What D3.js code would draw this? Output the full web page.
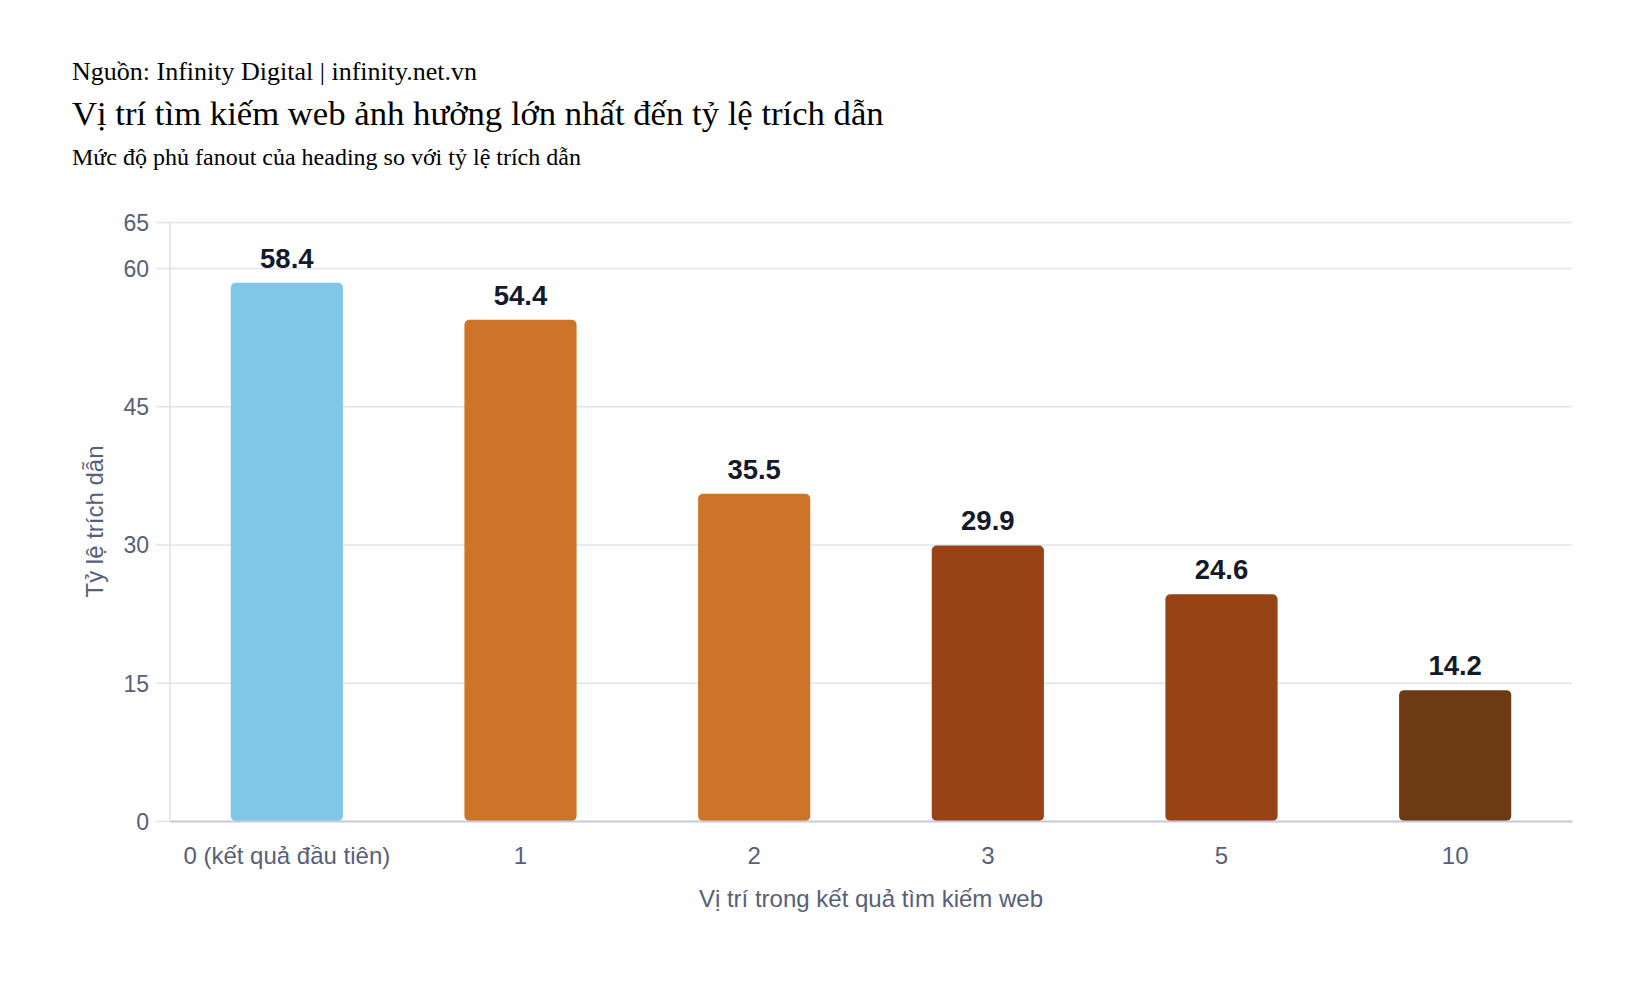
<!DOCTYPE html>
<html>
<head>
<meta charset="utf-8">
<script src="https://cdn.jsdelivr.net/npm/d3@7"></script>
<style>
  body { margin: 0; background: #fff; }
  svg text { font-family: "Liberation Sans", Arial, sans-serif; }
  .head text { font-family: "Liberation Serif", "Times New Roman", serif; fill: #000; }
</style>
</head>
<body>
<div id="chart"></div>
<script>
// data
const positions = ['0 (kết quả đầu tiên)', '1', '2', '3', '5', '10'];
const citationRates = [58.4, 54.4, 35.5, 29.9, 24.6, 14.2];
const barColors = ['#80C6E7', '#CE7428', '#CE7428', '#974315', '#974315', '#6D3B13'];
const yTicks = [0, 15, 30, 45, 60, 65];

const width = 1630, height = 992;
const margin = { top: 222, right: 58, bottom: 171, left: 170 };
const innerW = width - margin.left - margin.right;
const innerH = height - margin.top - margin.bottom;

const svg = d3.select('#chart').append('svg')
  .attr('width', width)
  .attr('height', height);

// header texts
const head = svg.append('g').attr('class', 'head');
head.append('text').attr('x', 72).attr('y', 80).style('font-size', '26px')
  .text('Nguồn: Infinity Digital | infinity.net.vn');
head.append('text').attr('x', 72).attr('y', 125).style('font-size', '34.7px')
  .text('Vị trí tìm kiếm web ảnh hưởng lớn nhất đến tỷ lệ trích dẫn');
head.append('text').attr('x', 72).attr('y', 165).style('font-size', '24px')
  .text('Mức độ phủ fanout của heading so với tỷ lệ trích dẫn');

const g = svg.append('g')
  .attr('transform', `translate(${margin.left}, ${margin.top})`);

const xScale = d3.scaleBand()
  .domain(positions)
  .range([0, innerW])
  .paddingInner(0.52)
  .paddingOuter(0.26);

const yScale = d3.scaleLinear()
  .domain([0, 65])
  .range([innerH, 0]);

// gridlines + y labels
const yAxis = d3.axisLeft(yScale)
  .tickValues(yTicks)
  .tickSize(-(innerW + 14))
  .tickPadding(7);

g.append('g')
  .attr('class', 'y-axis')
  .call(yAxis)
  .call(s => s.select('.domain').remove())
  .call(s => s.selectAll('.tick line')
    .attr('x1', -14)
    .attr('x2', innerW)
    .attr('stroke', '#e1e4ee')
    .attr('stroke-width', 1.5))
  .call(s => s.selectAll('.tick text')
    .attr('x', -21)
    .attr('dy', '0.36em')
    .attr('fill', '#566079')
    .style('font-size', '23px'));

// y axis line
g.append('line')
  .attr('x1', 0).attr('x2', 0)
  .attr('y1', 0).attr('y2', innerH)
  .attr('stroke', '#e2e2e6')
  .attr('stroke-width', 1.5);

// bars
g.selectAll('.bar')
  .data(citationRates)
  .join('rect')
    .attr('class', 'bar')
    .attr('x', (d, i) => xScale(positions[i]))
    .attr('width', xScale.bandwidth())
    .attr('y', d => yScale(d))
    .attr('height', d => innerH - yScale(d))
    .attr('rx', 5)
    .attr('fill', (d, i) => barColors[i]);

// value labels
g.selectAll('.val')
  .data(citationRates)
  .join('text')
    .attr('class', 'val')
    .attr('x', (d, i) => xScale(positions[i]) + xScale.bandwidth() / 2)
    .attr('y', d => yScale(d) - 15)
    .attr('text-anchor', 'middle')
    .attr('fill', '#141a2b')
    .style('font-size', '27.5px')
    .style('font-weight', 'bold')
    .text(d => d.toFixed(1));

// x axis
const xAxis = d3.axisBottom(xScale).tickSize(0).tickPadding(26);
g.append('g')
  .attr('class', 'x-axis')
  .attr('transform', `translate(0, ${innerH})`)
  .call(xAxis)
  .call(s => s.select('.domain')
    .attr('stroke', '#c8ccd9')
    .attr('stroke-width', 2))
  .call(s => s.selectAll('.tick text')
    .attr('fill', '#566079')
    .style('font-size', '24px'));

// axis titles
g.append('text')
  .attr('x', innerW / 2)
  .attr('y', innerH + 86)
  .attr('text-anchor', 'middle')
  .attr('fill', '#566079')
  .style('font-size', '24px')
  .text('Vị trí trong kết quả tìm kiếm web');

g.append('text')
  .attr('transform', `translate(${-75}, ${innerH / 2}) rotate(-90)`)
  .attr('text-anchor', 'middle')
  .attr('dy', '0.35em')
  .attr('fill', '#566079')
  .style('font-size', '24px')
  .text('Tỷ lệ trích dẫn');
</script>
</body>
</html>
